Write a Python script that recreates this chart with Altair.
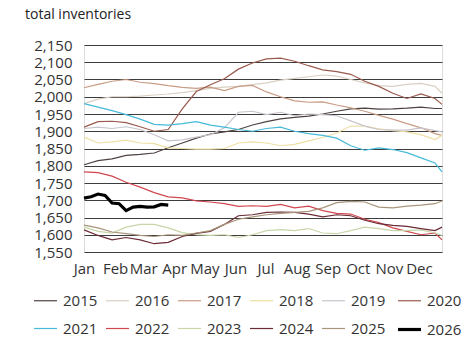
import altair as alt
import pandas as pd

# week positions (week-of-year) for the full-year series
weeks = [1, 3, 5, 7, 9, 11, 13, 15, 17, 19, 21, 23, 25, 27, 29, 31, 33, 35, 37, 39, 41, 43, 45, 47, 49, 51, 52]
weeks_2026 = [1, 2, 3, 4, 5, 6, 7, 8, 9, 10, 11, 12, 13]

years = ["2015", "2016", "2017", "2018", "2019", "2020", "2021", "2022", "2023", "2024", "2025", "2026"]
colors = ["#4d4340", "#d9d0c2", "#c99c84", "#eedfa6", "#c9c3cc", "#9a5a4e",
          "#46bad8", "#d0474f", "#c8d6a8", "#6a2b36", "#a8957a", "#000000"]
widths = [1.2, 1.2, 1.2, 1.2, 1.2, 1.2, 1.2, 1.2, 1.2, 1.2, 1.2, 3.2]

v2015 = [1803, 1815, 1820, 1830, 1833, 1837, 1852, 1866, 1880, 1892, 1898, 1905, 1918, 1928, 1936, 1940, 1944, 1950, 1958, 1965, 1967, 1964, 1965, 1967, 1970, 1966, 1966]
v2016 = [1980, 1993, 2000, 2000, 2002, 2005, 2008, 2012, 2018, 2024, 2028, 2030, 2035, 2040, 2048, 2053, 2058, 2063, 2060, 2050, 2040, 2032, 2030, 2036, 2039, 2030, 2010]
v2017 = [2026, 2036, 2045, 2050, 2042, 2038, 2032, 2027, 2024, 2028, 2018, 2030, 2033, 2014, 2000, 1988, 1984, 1985, 1976, 1968, 1958, 1946, 1935, 1922, 1910, 1893, 1888]
v2018 = [1883, 1866, 1869, 1874, 1866, 1864, 1852, 1850, 1848, 1848, 1850, 1866, 1869, 1866, 1858, 1862, 1872, 1882, 1895, 1915, 1915, 1907, 1902, 1898, 1890, 1876, 1888]
v2019 = [1908, 1912, 1908, 1913, 1905, 1890, 1872, 1875, 1883, 1890, 1910, 1955, 1958, 1948, 1955, 1945, 1950, 1948, 1945, 1930, 1915, 1905, 1903, 1903, 1910, 1902, 1898]
v2020 = [1912, 1928, 1929, 1925, 1913, 1900, 1905, 1965, 2015, 2035, 2052, 2080, 2098, 2110, 2112, 2103, 2090, 2078, 2073, 2065, 2045, 2030, 2010, 1995, 2008, 1995, 1978]
v2021 = [1980, 1970, 1960, 1948, 1935, 1920, 1918, 1922, 1928, 1918, 1912, 1905, 1900, 1908, 1912, 1900, 1893, 1888, 1880, 1858, 1845, 1852, 1847, 1838, 1823, 1808, 1782]
v2022 = [1782, 1780, 1770, 1752, 1738, 1722, 1710, 1707, 1698, 1695, 1690, 1682, 1684, 1682, 1688, 1678, 1683, 1670, 1662, 1660, 1645, 1635, 1620, 1610, 1600, 1605, 1585]
v2023 = [1622, 1610, 1605, 1622, 1630, 1630, 1620, 1606, 1600, 1598, 1600, 1592, 1600, 1612, 1615, 1612, 1618, 1605, 1603, 1612, 1622, 1618, 1612, 1612, 1614, 1605, 1598]
v2024 = [1614, 1598, 1585, 1592, 1585, 1574, 1578, 1595, 1604, 1610, 1630, 1655, 1658, 1665, 1666, 1665, 1660, 1652, 1658, 1655, 1642, 1632, 1627, 1624, 1618, 1612, 1622]
v2025 = [1628, 1620, 1608, 1603, 1598, 1595, 1600, 1598, 1605, 1612, 1630, 1645, 1652, 1658, 1662, 1665, 1668, 1678, 1693, 1697, 1695, 1680, 1678, 1683, 1686, 1690, 1698]
v2026 = [1706, 1710, 1718, 1714, 1692, 1690, 1670, 1680, 1682, 1680, 1681, 1688, 1686]

series = [v2015, v2016, v2017, v2018, v2019, v2020, v2021, v2022, v2023, v2024, v2025, v2026]

month_labels = ["Jan", "Feb", "Mar", "Apr", "May", "Jun", "Jul", "Aug", "Sep", "Oct", "Nov", "Dec"]
month_start_days = [0, 31, 59, 90, 120, 151, 181, 212, 243, 273, 304, 334]
month_weeks = [1 + d / 7 for d in month_start_days]

y_ticks = list(range(1550, 2151, 50))

rows = []
for yr, vals in zip(years, series):
    wk = weeks_2026 if yr == "2026" else weeks
    for w, v in zip(wk, vals):
        rows.append({"week": w, "value": v, "year": yr})
df = pd.DataFrame(rows)

label_expr = "[" + ",".join("'" + m + "'" for m in month_labels) + "][round((datum.value-1)*7/30.44)]"

FONT = "Open Sans"

legend = alt.Legend(title=None, orient="none", legendX=-52, legendY=243,
                    direction="horizontal", columns=6,
                    symbolType="stroke", symbolSize=530,
                    labelFontSize=15, labelFont=FONT, labelColor="#333333",
                    columnPadding=5, rowPadding=7, labelOffset=4)

chart = alt.Chart(df).mark_line(interpolate="linear").encode(
    x=alt.X("week:Q",
            scale=alt.Scale(domain=[1, 52], nice=False, zero=False),
            axis=alt.Axis(values=month_weeks, labelExpr=label_expr, title=None,
                          grid=False, domain=False, ticks=False, labelPadding=9,
                          labelFontSize=15, labelFont=FONT, labelColor="#333333",
                          labelOverlap=False, labelFlush=False)),
    y=alt.Y("value:Q",
            scale=alt.Scale(domain=[1550, 2150], nice=False, zero=False),
            axis=alt.Axis(values=y_ticks, format=",.0f", title=None, grid=True,
                          gridColor="#3c3c3c", gridWidth=1, domain=False, ticks=False,
                          labelPadding=12, labelFontSize=15, labelFont=FONT,
                          labelColor="#333333")),
    color=alt.Color("year:O", scale=alt.Scale(type="ordinal", domain=years, range=colors),
                    legend=legend),
    strokeWidth=alt.StrokeWidth("year:O",
                                scale=alt.Scale(type="ordinal", domain=years, range=widths),
                                legend=legend),
    order=alt.Order("week:Q"),
).properties(
    width=358,
    height=207,
    title=alt.TitleParams("total inventories", anchor="start", frame="group", dx=-59,
                          offset=16, fontSize=14, fontWeight="normal", font=FONT,
                          color="#222222"),
    autosize=alt.AutoSizeParams(type="none"),
    padding={"left": 76, "top": 37, "right": 20, "bottom": 100},
).configure_view(stroke=None).configure(background="white")

chart.save("out.html", embed_options={"renderer": "svg", "actions": False})
